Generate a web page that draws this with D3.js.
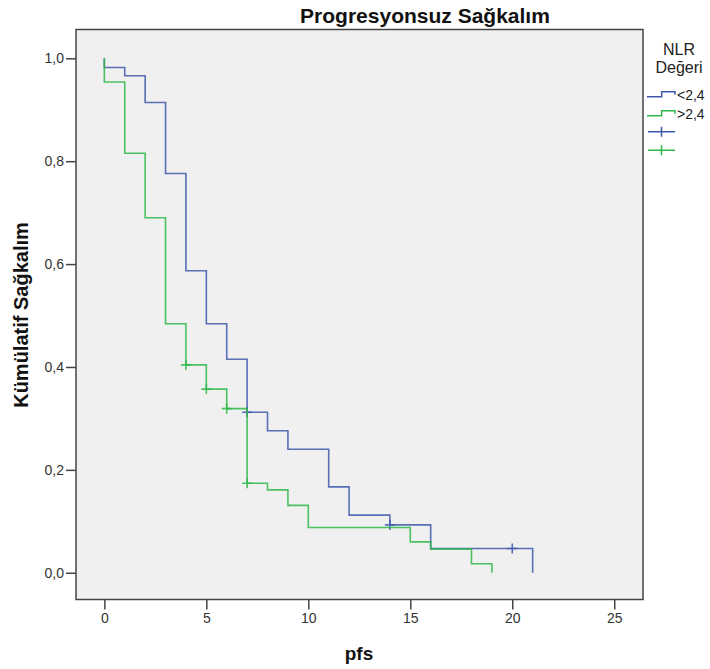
<!DOCTYPE html>
<html>
<head>
<meta charset="utf-8">
<script src="https://cdn.jsdelivr.net/npm/d3@7"></script>
<style>
  body { margin: 0; background: #fff; }
  svg { display: block; font-family: "Liberation Sans", Arial, sans-serif; }
</style>
</head>
<body>
<svg id="chart" width="710" height="669"></svg>
<script>
// event times and survival after each step
const lowTimes = [0, 1, 2, 3, 4, 5, 6, 7, 8, 9, 11, 12, 14, 16, 21];
const lowSurv = [0.982, 0.966, 0.914, 0.776, 0.587, 0.484, 0.415, 0.312, 0.276, 0.240, 0.167, 0.112, 0.093, 0.047, 0];
const lowCensorT = [7, 14, 20];
const lowCensorS = [0.312, 0.093, 0.047];

const highTimes = [0, 1, 2, 3, 4, 5, 6, 7, 8, 9, 10, 15, 16, 18, 19];
const highSurv = [0.954, 0.8155, 0.690, 0.484, 0.404, 0.357, 0.319, 0.174, 0.161, 0.131, 0.088, 0.060, 0.046, 0.0175, 0];
const highCensorT = [4, 5, 6, 7];
const highCensorS = [0.404, 0.357, 0.319, 0.174];

const xTicks = [0, 5, 10, 15, 20, 25];
const yTicks = [0, 0.2, 0.4, 0.6, 0.8, 1.0];
const groupLabels = ["<2,4", ">2,4"];

const BLUE = "#3e58ac";
const GREEN = "#2eb848";

const svg = d3.select("#chart");

const plot = { left: 76, right: 643, top: 29.5, bottom: 599.5 };

const x = d3.scaleLinear().domain([-1.39, 26.41]).range([plot.left, plot.right]);
const y = d3.scaleLinear().domain([-0.052, 1.056]).range([plot.bottom, plot.top]);

// plot background
svg.append("rect")
  .attr("x", plot.left).attr("y", plot.top)
  .attr("width", plot.right - plot.left)
  .attr("height", plot.bottom - plot.top)
  .attr("fill", "#f0f0f0")
  .attr("stroke", "#444")
  .attr("stroke-width", 1.5);

const comma = d => d3.format(".1f")(d).replace(".", ",");

// axes
const xAxis = svg.append("g")
  .attr("transform", `translate(0,${plot.bottom})`)
  .call(d3.axisBottom(x).tickValues(xTicks).tickSize(10).tickPadding(4));

const yAxis = svg.append("g")
  .attr("transform", `translate(${plot.left},0)`)
  .call(d3.axisLeft(y).tickValues(yTicks).tickSize(10).tickPadding(2).tickFormat(comma));

[xAxis, yAxis].forEach(a => {
  a.select(".domain").remove();
  a.selectAll("line").attr("stroke", "#444").attr("stroke-width", 1.5);
  a.selectAll("text").attr("fill", "#333").style("font-size", "14px");
});

// step curves
const line = d3.line()
  .x(d => x(d[0]))
  .y(d => y(d[1]))
  .curve(d3.curveStepAfter);

function drawGroup(times, surv, ct, cs, color) {
  const pts = [[0, 1]].concat(times.map((t, i) => [t, surv[i]]));
  svg.append("path")
    .attr("d", line(pts))
    .attr("fill", "none")
    .attr("stroke", color)
    .attr("stroke-width", 1.6)
    .attr("stroke-opacity", 0.85);

  svg.append("g").selectAll("path")
    .data(ct.map((t, i) => [t, cs[i]]))
    .join("path")
    .attr("d", d => `M${x(d[0]) - 5},${y(d[1])}H${x(d[0]) + 5}M${x(d[0])},${y(d[1]) - 5}V${y(d[1]) + 5}`)
    .attr("stroke", color)
    .attr("stroke-width", 1.6)
    .attr("stroke-opacity", 0.85);
}

drawGroup(lowTimes, lowSurv, lowCensorT, lowCensorS, BLUE);
drawGroup(highTimes, highSurv, highCensorT, highCensorS, GREEN);

// title and axis labels
svg.append("text")
  .attr("x", 425).attr("y", 23)
  .attr("text-anchor", "middle")
  .style("font-size", "21px").style("font-weight", "bold")
  .attr("fill", "#111")
  .text("Progresyonsuz Sağkalım");

svg.append("text")
  .attr("transform", "translate(28,315) rotate(-90)")
  .attr("text-anchor", "middle")
  .style("font-size", "20px").style("font-weight", "bold")
  .attr("fill", "#111")
  .text("Kümülatif Sağkalım");

svg.append("text")
  .attr("x", 359).attr("y", 660)
  .attr("text-anchor", "middle")
  .style("font-size", "19px").style("font-weight", "bold")
  .attr("fill", "#111")
  .text("pfs");

// legend
const legend = svg.append("g");
legend.append("text").attr("x", 679).attr("y", 55).attr("text-anchor", "middle")
  .style("font-size", "16px").attr("fill", "#222").text("NLR");
legend.append("text").attr("x", 679).attr("y", 73).attr("text-anchor", "middle")
  .style("font-size", "16px").attr("fill", "#222").text("Değeri");

const legendColors = [BLUE, GREEN];
legendColors.forEach((c, i) => {
  const by = 96.7 + i * 19;
  legend.append("path")
    .attr("d", `M647,${by}H661.7V${by - 5}H675V${by - 2}`)
    .attr("fill", "none").attr("stroke", c).attr("stroke-width", 1.5);
  legend.append("text").attr("x", 677).attr("y", by + 3)
    .style("font-size", "14px").attr("fill", "#222").text(groupLabels[i]);
  const cy = 131.7 + i * 18.5;
  legend.append("path")
    .attr("d", `M648,${cy}H675M661.5,${cy - 5}V${cy + 5}`)
    .attr("stroke", c).attr("stroke-width", 1.5);
});
</script>
</body>
</html>
